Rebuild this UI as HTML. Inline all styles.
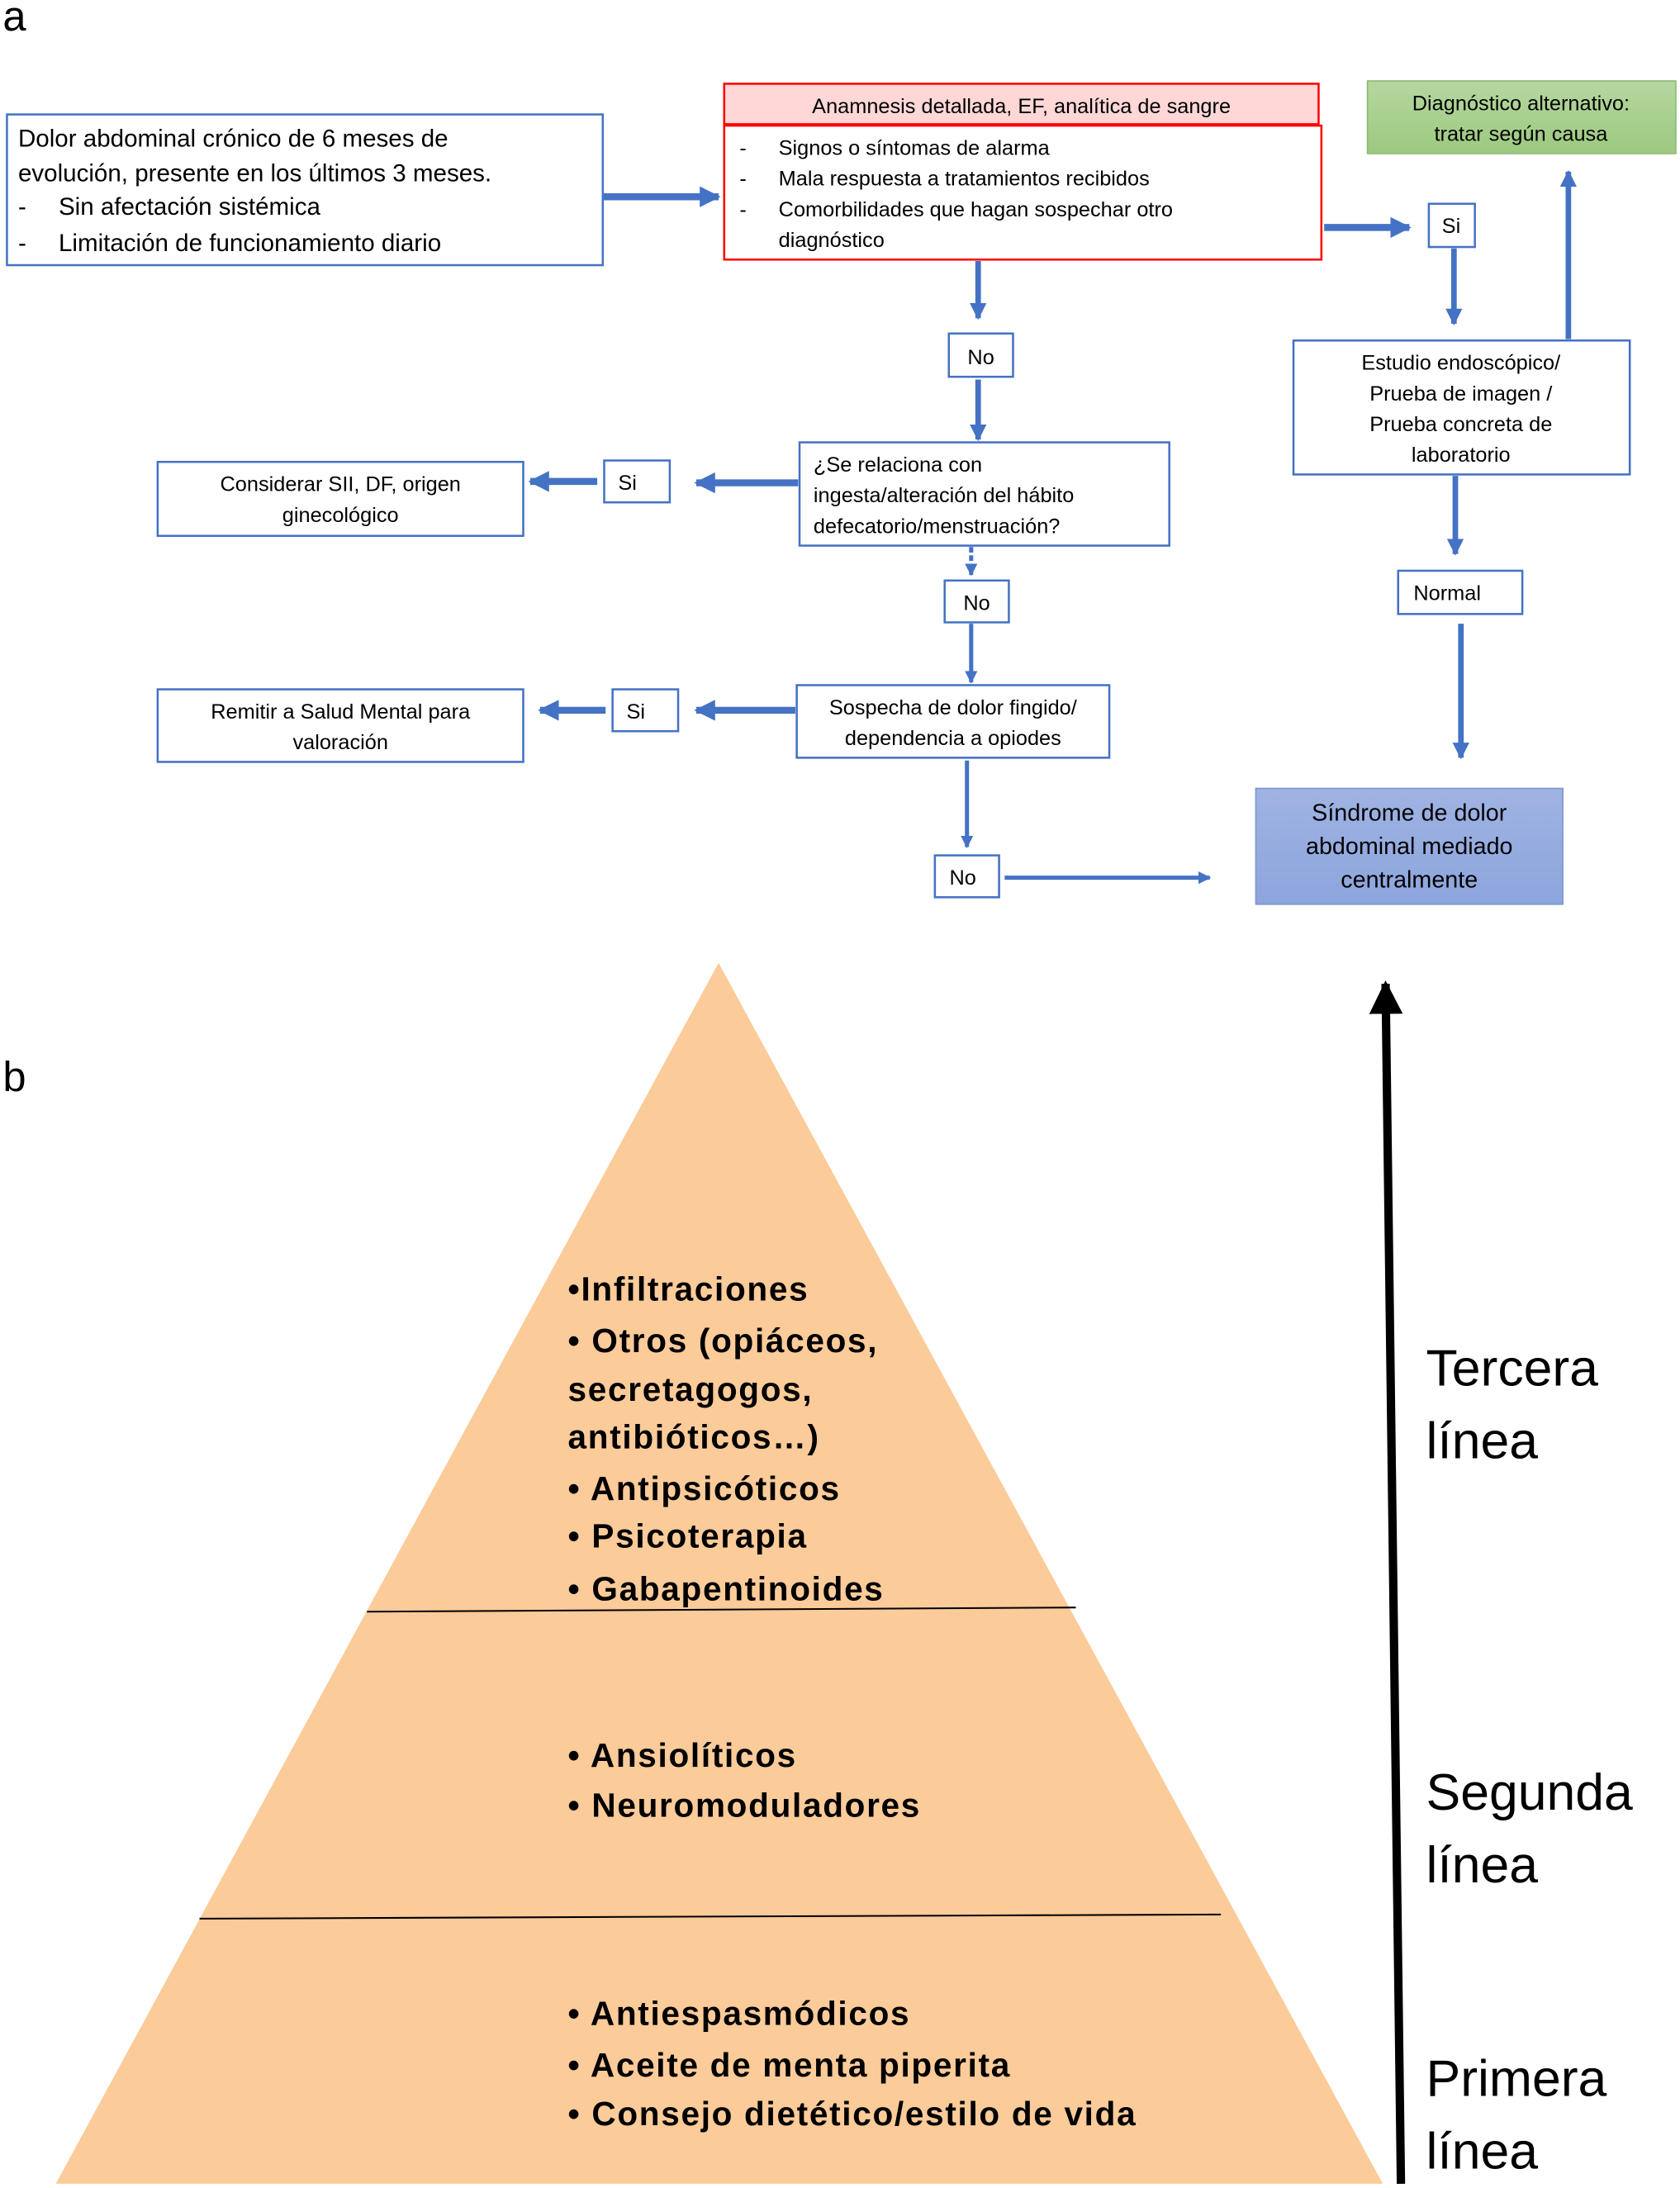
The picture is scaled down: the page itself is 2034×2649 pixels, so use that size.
<!DOCTYPE html>
<html><head><meta charset="utf-8"><style>
html,body{margin:0;padding:0;background:#fff}
svg{display:block}
text{font-family:"Liberation Sans",sans-serif;fill:#000}
</style></head><body>
<svg width="2034" height="2649" viewBox="0 0 1204 1568" xmlns="http://www.w3.org/2000/svg">
<defs>
<marker id="ah" viewBox="0 0 10 10" refX="9" refY="5" markerWidth="3" markerHeight="3" orient="auto" markerUnits="strokeWidth">
<path d="M0,0 L10,5 L0,10 z" fill="#4472C4"/></marker>
<marker id="bk" viewBox="0 0 10 10" refX="9" refY="5" markerWidth="4" markerHeight="4" orient="auto" markerUnits="strokeWidth">
<path d="M0,0 L10,5 L0,10 z" fill="#000"/></marker>
<linearGradient id="g" x1="0" y1="0" x2="0" y2="1"><stop offset="0" stop-color="#B5D7A0"/><stop offset="1" stop-color="#9CC97F"/></linearGradient>
<linearGradient id="p" x1="0" y1="0" x2="0" y2="1"><stop offset="0" stop-color="#9FB3E3"/><stop offset="1" stop-color="#8DA5DD"/></linearGradient>
</defs>
<text x="2" y="22" font-size="30">a</text>
<text x="2" y="782" font-size="30">b</text>

<rect x="5" y="82" width="427" height="108" fill="#fff" stroke="#4472C4" stroke-width="1.5"/>
<text font-size="17.5"><tspan x="13" y="105">Dolor abdominal crónico de 6 meses de</tspan><tspan x="13" y="130">evolución, presente en los últimos 3 meses.</tspan><tspan x="13" y="154">-</tspan><tspan x="42" y="154">Sin afectación sistémica</tspan><tspan x="13" y="180">-</tspan><tspan x="42" y="180">Limitación de funcionamiento diario</tspan></text>

<rect x="519" y="60" width="426" height="29" fill="#FFD7D7" stroke="#f00" stroke-width="1.5"/>
<text x="732" y="81" font-size="15" text-anchor="middle">Anamnesis detallada, EF, analítica de sangre</text>
<rect x="519" y="90" width="428" height="96" fill="#fff" stroke="#f00" stroke-width="1.5"/>
<text font-size="15"><tspan x="530" y="111">-</tspan><tspan x="558" y="111">Signos o síntomas de alarma</tspan><tspan x="530" y="133">-</tspan><tspan x="558" y="133">Mala respuesta a tratamientos recibidos</tspan><tspan x="530" y="155">-</tspan><tspan x="558" y="155">Comorbilidades que hagan sospechar otro</tspan><tspan x="558" y="177">diagnóstico</tspan></text>

<rect x="980" y="58" width="221" height="52" fill="url(#g)" stroke="#8DBB72" stroke-width="1"/>
<text font-size="15" text-anchor="middle"><tspan x="1090" y="79">Diagnóstico alternativo:</tspan><tspan x="1090" y="101">tratar según causa</tspan></text>

<rect x="1024" y="146" width="33" height="31" fill="#fff" stroke="#4472C4" stroke-width="1.5"/>
<text x="1040" y="167" font-size="15" text-anchor="middle">Si</text>

<rect x="927" y="244" width="241" height="96" fill="#fff" stroke="#4472C4" stroke-width="1.5"/>
<text font-size="15" text-anchor="middle"><tspan x="1047" y="265">Estudio endoscópico/</tspan><tspan x="1047" y="287">Prueba de imagen /</tspan><tspan x="1047" y="309">Prueba concreta de</tspan><tspan x="1047" y="331">laboratorio</tspan></text>

<rect x="1002" y="409" width="89" height="31" fill="#fff" stroke="#4472C4" stroke-width="1.5"/>
<text x="1013" y="430" font-size="15">Normal</text>

<rect x="900" y="565" width="220" height="83" fill="url(#p)" stroke="#7F97CF" stroke-width="1"/>
<text font-size="17" text-anchor="middle"><tspan x="1010" y="588">Síndrome de dolor</tspan><tspan x="1010" y="612">abdominal mediado</tspan><tspan x="1010" y="636">centralmente</tspan></text>

<rect x="680" y="239" width="46" height="31" fill="#fff" stroke="#4472C4" stroke-width="1.5"/>
<text x="703" y="261" font-size="15" text-anchor="middle">No</text>

<rect x="573" y="317" width="265" height="74" fill="#fff" stroke="#4472C4" stroke-width="1.5"/>
<text font-size="15"><tspan x="583" y="338">¿Se relaciona con</tspan><tspan x="583" y="360">ingesta/alteración del hábito</tspan><tspan x="583" y="382">defecatorio/menstruación?</tspan></text>

<rect x="433" y="330" width="47" height="30" fill="#fff" stroke="#4472C4" stroke-width="1.5"/>
<text x="443" y="351" font-size="15">Si</text>

<rect x="113" y="331" width="262" height="53" fill="#fff" stroke="#4472C4" stroke-width="1.5"/>
<text font-size="15" text-anchor="middle"><tspan x="244" y="352">Considerar SII, DF, origen</tspan><tspan x="244" y="374">ginecológico</tspan></text>

<rect x="677" y="416" width="46" height="30" fill="#fff" stroke="#4472C4" stroke-width="1.5"/>
<text x="700" y="437" font-size="15" text-anchor="middle">No</text>

<rect x="571" y="491" width="224" height="52" fill="#fff" stroke="#4472C4" stroke-width="1.5"/>
<text font-size="15" text-anchor="middle"><tspan x="683" y="512">Sospecha de dolor fingido/</tspan><tspan x="683" y="534">dependencia a opiodes</tspan></text>

<rect x="439" y="494" width="47" height="30" fill="#fff" stroke="#4472C4" stroke-width="1.5"/>
<text x="449" y="515" font-size="15">Si</text>

<rect x="113" y="494" width="262" height="52" fill="#fff" stroke="#4472C4" stroke-width="1.5"/>
<text font-size="15" text-anchor="middle"><tspan x="244" y="515">Remitir a Salud Mental para</tspan><tspan x="244" y="537">valoración</tspan></text>

<rect x="670" y="613" width="46" height="30" fill="#fff" stroke="#4472C4" stroke-width="1.5"/>
<text x="690" y="634" font-size="15" text-anchor="middle">No</text>

<g stroke="#4472C4" fill="none" marker-end="url(#ah)">
<line x1="432" y1="141" x2="515" y2="141" stroke-width="5"/>
<line x1="949" y1="163" x2="1010" y2="163" stroke-width="5"/>
<line x1="1042" y1="178" x2="1042" y2="232" stroke-width="4"/>
<line x1="1124" y1="243" x2="1124" y2="123" stroke-width="4"/>
<line x1="1043" y1="341" x2="1043" y2="397" stroke-width="4"/>
<line x1="1047" y1="447" x2="1047" y2="543" stroke-width="4"/>
<line x1="701" y1="187" x2="701" y2="228" stroke-width="4"/>
<line x1="701" y1="272" x2="701" y2="315" stroke-width="4"/>
<line x1="572" y1="346" x2="499" y2="346" stroke-width="5"/>
<line x1="428" y1="345" x2="380" y2="345" stroke-width="5"/>
<line x1="696" y1="392" x2="696" y2="412" stroke-width="3" stroke-dasharray="4,2"/>
<line x1="696" y1="447" x2="696" y2="489" stroke-width="3"/>
<line x1="570" y1="509" x2="499" y2="509" stroke-width="5"/>
<line x1="434" y1="509" x2="387" y2="509" stroke-width="5"/>
<line x1="693" y1="545" x2="693" y2="607" stroke-width="3"/>
<line x1="720" y1="629" x2="867" y2="629" stroke-width="3"/>
</g>

<polygon points="515,690 40,1565 991,1565" fill="#FBCB9A"/>
<line x1="263" y1="1155" x2="771" y2="1152" stroke="#000" stroke-width="1.2"/>
<line x1="143" y1="1375" x2="875" y2="1372" stroke="#000" stroke-width="1.2"/>
<line x1="1004" y1="1565" x2="993" y2="705" stroke="#000" stroke-width="6" marker-end="url(#bk)"/>

<g font-size="24" font-weight="bold" letter-spacing="1">
<text x="407" y="932">•Infiltraciones</text>
<text x="407" y="969">• Otros (opiáceos,</text>
<text x="407" y="1004">secretagogos,</text>
<text x="407" y="1038">antibióticos…)</text>
<text x="407" y="1075">• Antipsicóticos</text>
<text x="407" y="1109">• Psicoterapia</text>
<text x="407" y="1147">• Gabapentinoides</text>
<text x="407" y="1266">• Ansiolíticos</text>
<text x="407" y="1302">• Neuromoduladores</text>
<text x="407" y="1451">• Antiespasmódicos</text>
<text x="407" y="1488">• Aceite de menta piperita</text>
<text x="407" y="1523">• Consejo dietético/estilo de vida</text>
</g>
<g font-size="37">
<text x="1022" y="993">Tercera</text>
<text x="1022" y="1045">línea</text>
<text x="1022" y="1297">Segunda</text>
<text x="1022" y="1349">línea</text>
<text x="1022" y="1502">Primera</text>
<text x="1022" y="1554">línea</text>
</g>
</svg>
</body></html>
